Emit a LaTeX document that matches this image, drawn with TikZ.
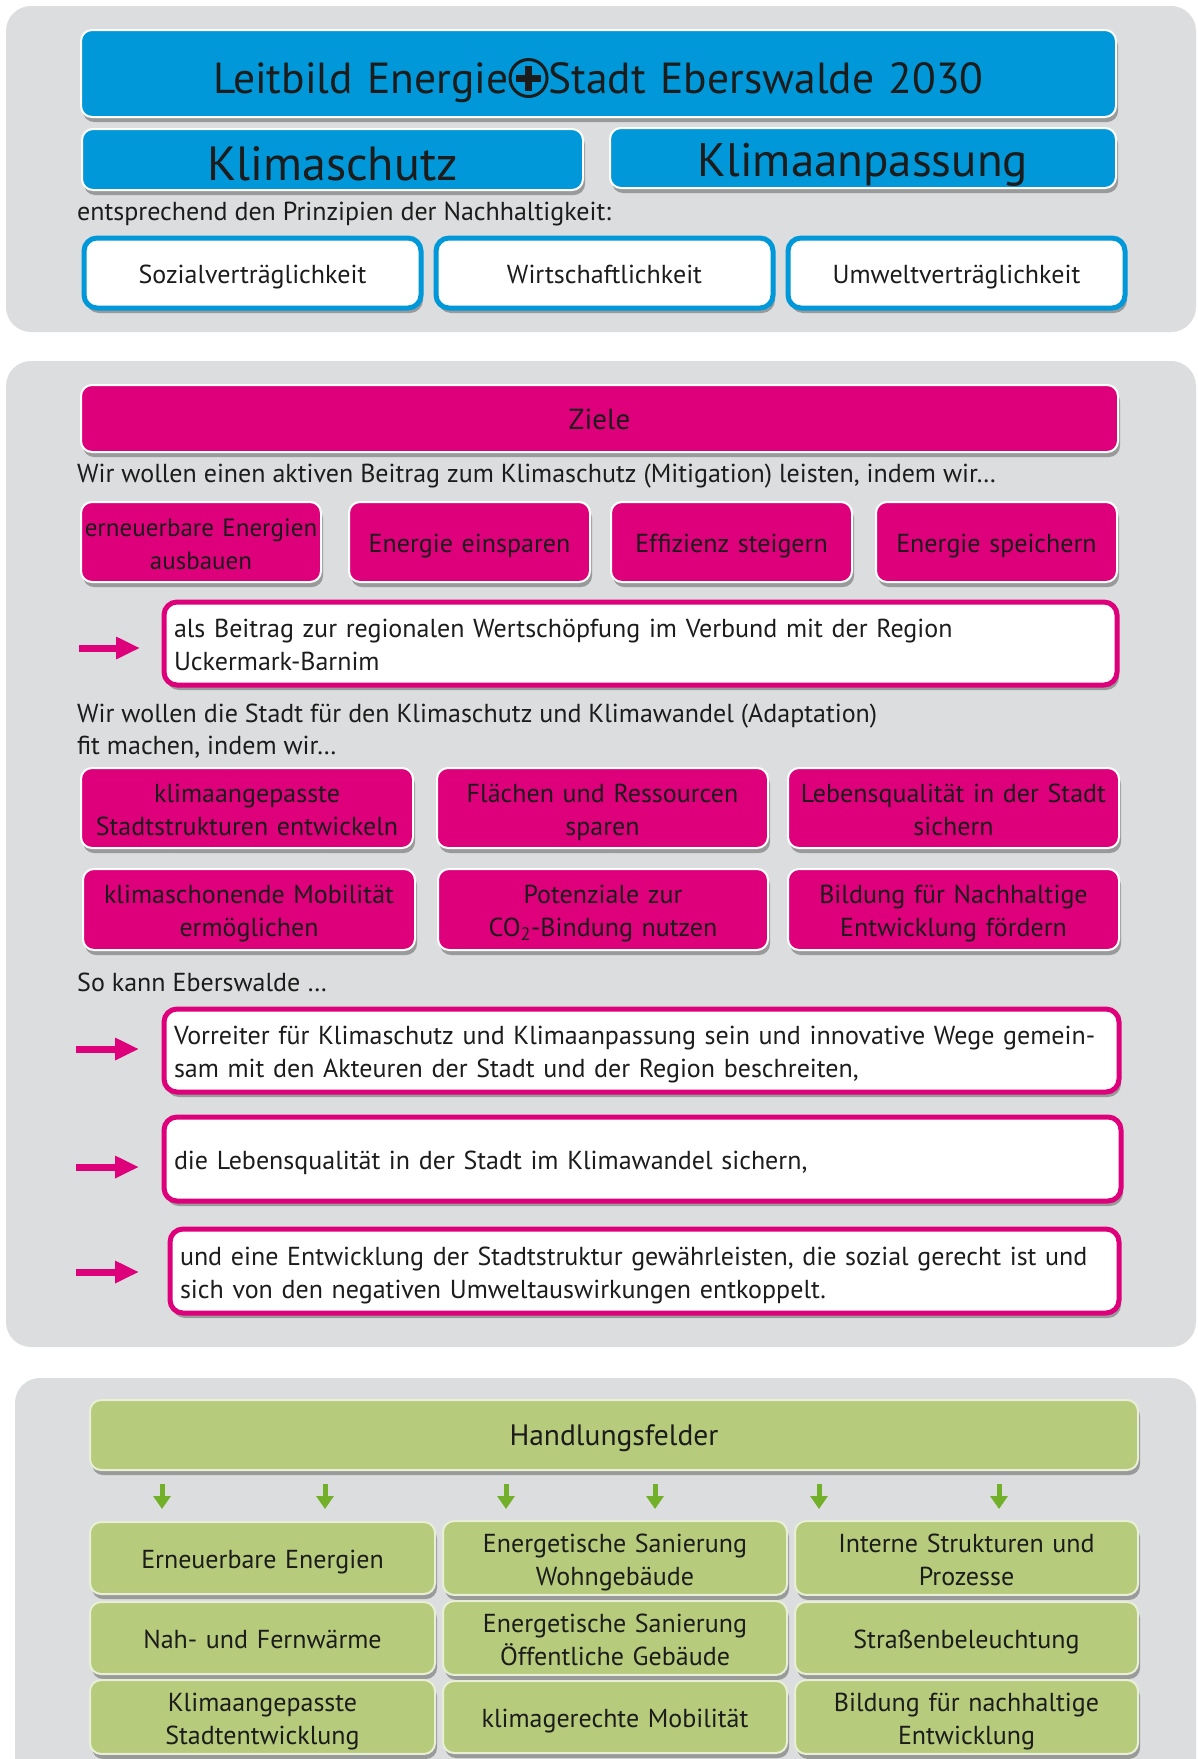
\documentclass[tikz,border=0pt]{standalone}
\usepackage{fontspec}
\setmainfont{PT Sans}
\usetikzlibrary{arrows.meta,shadows}
\definecolor{bgray}{HTML}{DCDDDE}
\definecolor{eblue}{HTML}{0098D8}
\definecolor{epink}{HTML}{DE007B}
\definecolor{egreen}{HTML}{B6CB7B}
\definecolor{egreenD}{HTML}{72B02A}
\definecolor{etext}{HTML}{1C1C1C}
\newcommand\fs[2]{\fontsize{#1}{#2}\selectfont}
\newcommand\circplus{\tikz[baseline={(0,-15pt)},x=1pt,y=1pt]{\draw[draw=etext,line width=3pt] (0,0) circle (18.5pt); \draw[draw=etext,line width=7pt] (-12.5,0)--(12.5,0) (0,-12.5)--(0,12.5);}}
\begin{document}
\begin{tikzpicture}[x=1pt,y=-1pt,
 every node/.style={text=etext, inner sep=0pt},
 panel/.style={fill=bgray, rounded corners=25pt},
 shad/.style={drop shadow={shadow xshift=2pt, shadow yshift=-5pt, opacity=0.3, fill=black}},
 cbox/.style={draw=white, line width=2pt, rounded corners=11pt, shad, align=center, font=\fs{26}{33},
   execute at begin node={\rule{0pt}{31pt}}, execute at end node=\strut},
 bluebox/.style={cbox, fill=eblue},
 pinkbox/.style={cbox, fill=epink},
 greenbox/.style={cbox, fill=egreen, draw=white!70!egreen},
 wbox/.style={fill=white, line width=5pt, rounded corners=13pt, shad, font=\fs{26}{33},
   execute at begin node={\rule{0pt}{31pt}}, execute at end node=\strut},
 bwbox/.style={wbox, draw=eblue, align=center},
 pwbox/.style={wbox, draw=epink, align=left},
 lbl/.style={anchor=west, align=left, font=\fs{26}{32}},
 parr/.style={draw=epink, line width=7pt, -{Triangle[length=24pt,width=21pt]}},
 garr/.style={draw=egreenD, line width=5pt, -{Triangle[length=13pt,width=17pt]}},
]
\fill[white] (0,0) rectangle (1198,1759);
\useasboundingbox (0,0) rectangle (1198,1759);
\clip (0,0) rectangle (1198,1759);

% panels
\fill[panel] (6,6) rectangle (1196,332);
\fill[panel] (6,361) rectangle (1196,1347);
\fill[panel] (15,1378) rectangle (1196,1820);

% ---- section 1
\node[bluebox, minimum width=1035, minimum height=87, text width=1015, font=\fs{43.5}{48},
  execute at begin node={}, execute at end node={}, text height=45pt, text depth=6pt] (title) at (598.5,73.5) {Leitbild Energie\circplus Stadt Eberswalde 2030};
\node[bluebox, minimum width=501, minimum height=61, text width=481, font=\fs{48}{52},
  execute at begin node={}, execute at end node={}, text height=42pt, text depth=0pt] (ks) at (332.5,159.5) {Klimaschutz};
\node[bluebox, minimum width=506, minimum height=60, text width=486, font=\fs{47}{52},
  execute at begin node={}, execute at end node={}, text height=46pt, text depth=10pt] (ka) at (863,158) {Klimaanpassung};
\node[lbl] (prin) at (77,214) {entsprechend den Prinzipien der Nachhaltigkeit:};
\node[bwbox, minimum width=337, minimum height=70, text width=317] (sv) at (252.5,273) {Sozialverträglichkeit};
\node[bwbox, minimum width=337, minimum height=70, text width=317] (wi) at (604.5,273) {Wirtschaftlichkeit};
\node[bwbox, minimum width=337, minimum height=70, text width=317] (uv) at (956.5,273) {Umweltverträglichkeit};

% ---- section 2
\node[pinkbox, minimum width=1037, minimum height=67, text width=1017, font=\fs{29}{33}] (ziele) at (599.5,418.5) {Ziele};
\node[lbl] (mit) at (77,476) {Wir wollen einen aktiven Beitrag zum Klimaschutz (Mitigation) leisten, indem wir…};
\node[pinkbox, minimum width=240, minimum height=80, text width=240, font=\fs{25}{33}] (m1) at (201,542) {erneuerbare Energien\\ausbauen};
\node[pinkbox, minimum width=241, minimum height=80, text width=221] (m2) at (469.5,542) {Energie einsparen};
\node[pinkbox, minimum width=241, minimum height=80, text width=221] (m3) at (731.5,542) {Effizienz steigern};
\node[pinkbox, minimum width=241, minimum height=80, text width=221] (m4) at (996.5,542) {Energie speichern};
\node[pwbox, minimum width=953, minimum height=83, text width=933] (w1) at (640.5,643.5) {als Beitrag zur regionalen Wertschöpfung im Verbund mit der Region\\Uckermark-Barnim};
\coordinate (pa1) at (79,648); \coordinate (pb1) at (140,648);
\draw[parr] (pa1) -- (pb1);

\node[lbl] (ada) at (77,731) {Wir wollen die Stadt für den Klimaschutz und Klimawandel (Adaptation)\\fit machen, indem wir…};
\node[pinkbox, minimum width=332, minimum height=80, text width=312] (a1) at (247,808) {klimaangepasste\\Stadtstrukturen entwickeln};
\node[pinkbox, minimum width=331, minimum height=80, text width=311] (a2) at (602.5,808) {Flächen und Ressourcen\\sparen};
\node[pinkbox, minimum width=331, minimum height=80, text width=311] (a3) at (953.5,808) {Lebensqualität in der Stadt\\sichern};
\node[pinkbox, minimum width=332, minimum height=81, text width=312] (a4) at (249,909.5) {klimaschonende Mobilität\\ermöglichen};
\node[pinkbox, minimum width=330, minimum height=81, text width=310] (a5) at (603,909.5) {Potenziale zur\\CO\textsubscript{2}-Bindung nutzen};
\node[pinkbox, minimum width=331, minimum height=81, text width=311] (a6) at (953.5,909.5) {Bildung für Nachhaltige\\Entwicklung fördern};

\node[lbl] (sok) at (77,982) {So kann Eberswalde …};
\node[pwbox, minimum width=955, minimum height=83, text width=935] (wa) at (641.5,1050.5) {Vorreiter für Klimaschutz und Klimaanpassung sein und innovative Wege gemein-\\sam mit den Akteuren der Stadt und der Region beschreiten,};
\node[pwbox, minimum width=957, minimum height=84, text width=937] (wb) at (642.5,1159) {die Lebensqualität in der Stadt im Klimawandel sichern,};
\node[pwbox, minimum width=949, minimum height=84, text width=929] (wc) at (644.5,1271) {und eine Entwicklung der Stadtstruktur gewährleisten, die sozial gerecht ist und\\sich von den negativen Umweltauswirkungen entkoppelt.};
\coordinate (pa2) at (76,1049); \coordinate (pb2) at (139,1049);
\coordinate (pa3) at (76,1167); \coordinate (pb3) at (139,1167);
\coordinate (pa4) at (76,1272); \coordinate (pb4) at (139,1272);
\draw[parr] (pa2) -- (pb2);
\draw[parr] (pa3) -- (pb3);
\draw[parr] (pa4) -- (pb4);

% ---- section 3
\node[greenbox, minimum width=1048, minimum height=70, text width=1028, font=\fs{29.5}{33}] (hf) at (614,1435) {Handlungsfelder};
\foreach \i/\x in {1/162,2/325,3/506,4/655,5/819,6/999}{
  \coordinate (ga\i) at (\x,1484);
  \coordinate (gb\i) at (\x,1509);
  \draw[garr] (ga\i) -- (gb\i);
}
\node[greenbox, minimum width=345, minimum height=72, text width=325] (h1) at (262.5,1558) {Erneuerbare Energien};
\node[greenbox, minimum width=344, minimum height=72, text width=324] (h2) at (615,1558) {Energetische Sanierung\\Wohngebäude};
\node[greenbox, minimum width=343, minimum height=72, text width=323] (h3) at (966.5,1558) {Interne Strukturen und\\Prozesse};
\node[greenbox, minimum width=345, minimum height=72, text width=325] (h4) at (262.5,1638) {Nah- und Fernwärme};
\node[greenbox, minimum width=344, minimum height=72, text width=324] (h5) at (615,1638) {Energetische Sanierung\\Öffentliche Gebäude};
\node[greenbox, minimum width=343, minimum height=72, text width=323] (h6) at (966.5,1638) {Straßenbeleuchtung};
\node[greenbox, minimum width=345, minimum height=72, text width=325] (h7) at (262.5,1717) {Klimaangepasste\\Stadtentwicklung};
\node[greenbox, minimum width=344, minimum height=72, text width=324] (h8) at (615,1717) {klimagerechte Mobilität};
\node[greenbox, minimum width=343, minimum height=72, text width=323] (h9) at (966.5,1717) {Bildung für nachhaltige\\Entwicklung};
\end{tikzpicture}
\end{document}
